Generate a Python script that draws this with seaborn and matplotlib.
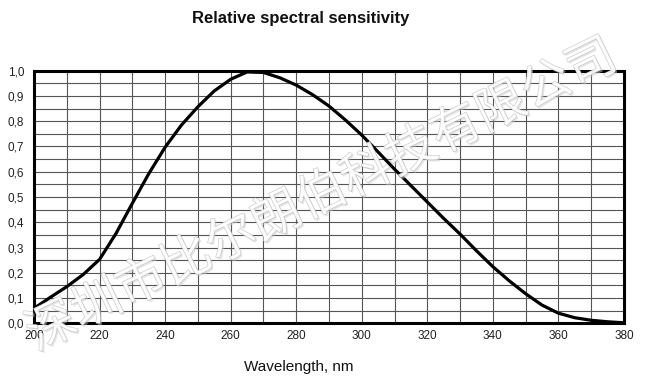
import pandas as pd
import seaborn as sns
import matplotlib.pyplot as plt
import matplotlib.patheffects as pe
from matplotlib.ticker import MultipleLocator, FuncFormatter

# relative spectral sensitivity
wavelength = [200, 205, 210, 215, 220, 225, 230, 235, 240, 245, 250, 255, 260, 265,
              270, 275, 280, 285, 290, 295, 300, 305, 310, 315, 320, 325, 330, 335,
              340, 345, 350, 355, 360, 365, 370, 375, 380]
sensitivity = [0.059, 0.103, 0.145, 0.193, 0.253, 0.355, 0.475, 0.592, 0.697, 0.785,
               0.857, 0.92, 0.966, 0.995, 0.993, 0.972, 0.943, 0.905, 0.86, 0.805,
               0.745, 0.678, 0.61, 0.545, 0.48, 0.415, 0.353, 0.287, 0.224, 0.168,
               0.117, 0.072, 0.04, 0.022, 0.012, 0.006, 0.002]

watermark = "深圳市比尔朗伯科技有限公司"

df = pd.DataFrame({"wavelength": wavelength, "sensitivity": sensitivity})

sns.set_theme(style="white")
plt.rcParams["font.family"] = ["Liberation Sans", "DejaVu Sans"]

fig = plt.figure(figsize=(6.46, 3.80), dpi=100)
ax = fig.add_axes([34 / 646, 1 - 323.3 / 380, 590 / 646, 252.6 / 380])

sns.lineplot(data=df, x="wavelength", y="sensitivity", ax=ax,
             color="black", linewidth=2.3, zorder=3)

ax.set_xlim(200, 380)
ax.set_ylim(0, 1)
ax.xaxis.set_major_locator(MultipleLocator(20))
ax.xaxis.set_minor_locator(MultipleLocator(10))
ax.yaxis.set_major_locator(MultipleLocator(0.1))
ax.yaxis.set_minor_locator(MultipleLocator(0.05))
ax.yaxis.set_major_formatter(FuncFormatter(lambda v, p: f"{v:.1f}".replace(".", ",")))

ax.grid(True, which="both", color="#555555", linewidth=0.8)
ax.set_axisbelow(True)
ax.tick_params(axis="both", which="both", length=0, labelsize=8.5, colors="#222222")
ax.tick_params(axis="y", pad=7)
ax.tick_params(axis="x", pad=5)

for s in ax.spines.values():
    s.set_visible(True)
    s.set_color("black")
    s.set_linewidth(2.2)
    s.set_zorder(4)

ax.set_ylabel("")
ax.set_xlabel("Wavelength, nm", fontsize=11, color="#111111")
ax.xaxis.set_label_coords((299 - 34) / 590, -(367 - 323.3) / 252.6)
ax.xaxis.label.set_va("center")

fig.text(301 / 646, 1 - 18 / 380, "Relative spectral sensitivity",
         ha="center", va="center", fontsize=12, fontweight="bold", color="#111111")

# company watermark running diagonally across the chart
fig.text(322 / 646, 1 - 196 / 380, watermark, ha="center", va="center",
         rotation=26, fontsize=36, color="white", alpha=0.6,
         family=["Noto Sans CJK SC", "DejaVu Sans"], fontweight="light", zorder=10,
         path_effects=[pe.withSimplePatchShadow(offset=(1.2, -1.2), shadow_rgbFace="#cccccc", alpha=0.5),
                       pe.Stroke(linewidth=0.6, foreground="#9a9a9a"), pe.Normal()])

fig.savefig("out.png", dpi=100)
